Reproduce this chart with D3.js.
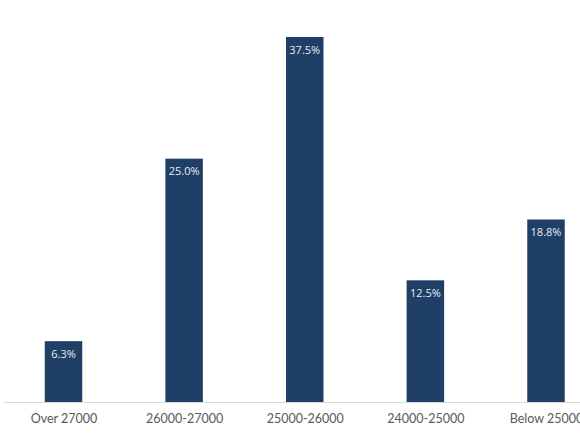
<!DOCTYPE html>
<html><head><meta charset="utf-8">
<script src="https://cdn.jsdelivr.net/npm/d3@7"></script>
<style>html,body{margin:0;padding:0;background:#fff;overflow:hidden}</style>
</head><body>
<svg id="chart" width="580" height="435"></svg>
<script>
const categories = ["Over 27000", "26000-27000", "25000-26000", "24000-25000", "Below 25000"];
const values = [6.25, 25.0, 37.5, 12.5, 18.75];
const labels = ["6.3%", "25.0%", "37.5%", "12.5%", "18.8%"];

const svg = d3.select("#chart");
const baseY = 402;
const x = d3.scalePoint().domain(categories).range([63.5, 546]);
const y = d3.scaleLinear().domain([0, 37.5]).range([baseY, 37]);
const bw = 37.5;

svg.append("line").attr("x1", 4).attr("x2", 580).attr("y1", baseY + 0.5).attr("y2", baseY + 0.5)
  .attr("stroke", "#d9d9d9").attr("stroke-width", 1);

svg.selectAll("rect.bar").data(values).enter().append("rect")
  .attr("class", "bar")
  .attr("x", (d, i) => x(categories[i]) - bw / 2)
  .attr("y", d => y(d))
  .attr("width", bw)
  .attr("height", d => baseY - y(d))
  .attr("fill", "#203f66");

svg.selectAll("text.val").data(values).enter().append("text")
  .attr("class", "val")
  .attr("x", (d, i) => x(categories[i]))
  .attr("y", d => y(d) + 16.5)
  .attr("text-anchor", "middle")
  .attr("font-family", "'Open Sans', sans-serif")
  .attr("font-size", "11px")
  .attr("fill", "#e8ecf2")
  .text((d, i) => labels[i]);

const xAxis = d3.axisBottom(x).tickSize(0).tickPadding(0);
const g = svg.append("g").attr("transform", `translate(0,${baseY})`).call(xAxis);
g.select(".domain").remove();
g.selectAll("text")
  .attr("dy", 0).attr("y", 21)
  .attr("font-family", "Lato, sans-serif")
  .attr("font-size", "12.5px")
  .attr("fill", "#595959");
</script>
</body></html>
